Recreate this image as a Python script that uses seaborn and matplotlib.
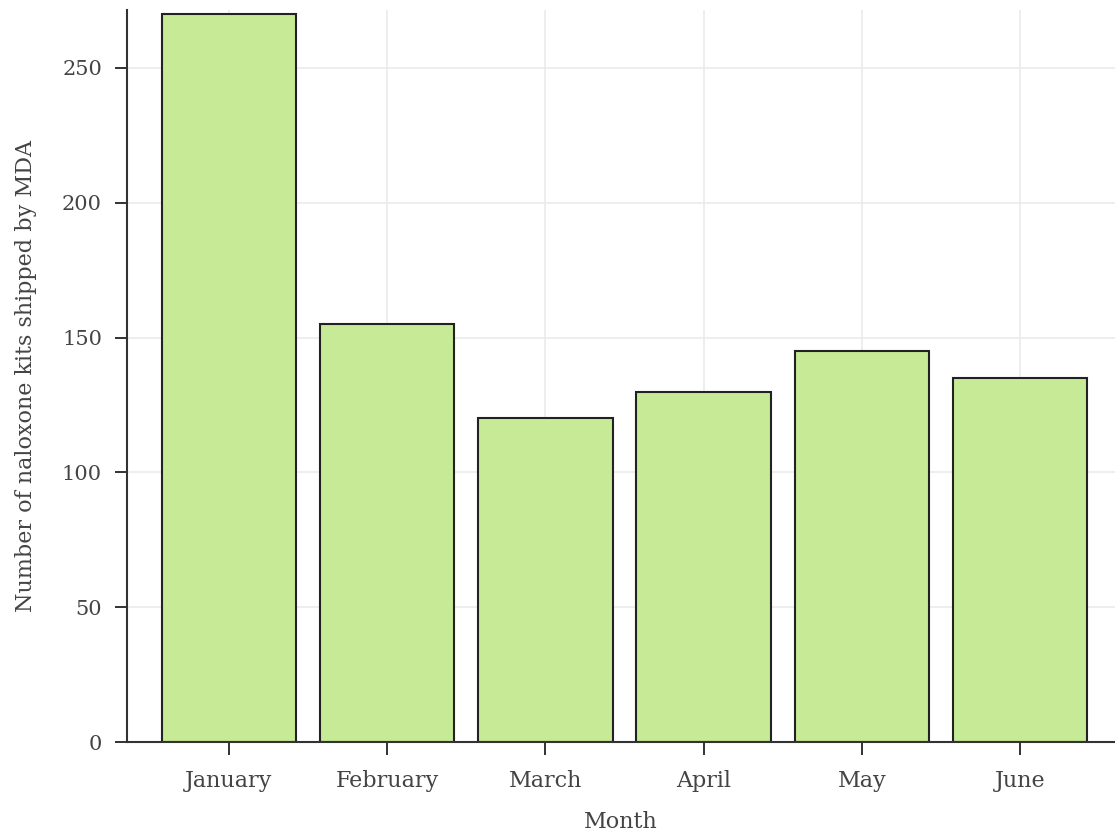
import seaborn as sns
import pandas as pd
import matplotlib as mpl
from matplotlib import pyplot as plt

months = ["January", "February", "March", "April", "May", "June"]
kits = [270, 155, 120, 130, 145, 135]

sns.set_style("white")
plt.rcParams["font.family"] = ["DejaVu Serif"]
plt.rcParams["text.color"] = "#444444"
plt.rcParams["axes.labelcolor"] = "#444444"
plt.rcParams["xtick.color"] = "#222222"
plt.rcParams["ytick.color"] = "#222222"
plt.rcParams["xtick.labelcolor"] = "#444444"
plt.rcParams["ytick.labelcolor"] = "#444444"

df = pd.DataFrame({"Month": months, "kits": kits})

fig = plt.figure(figsize=(11.15, 8.33), dpi=100)
ax = fig.add_axes([0.1139, 0.1092, 0.8861, 0.8788])

sns.barplot(data=df, x="Month", y="kits", color="#c6ea96", width=0.85,
            edgecolor="#222222", linewidth=1.5, saturation=1, ax=ax, zorder=2)

ax.set_xlim(-0.645, 5.6)
ax.set_ylim(0, 271.5)
ax.set_yticks([0, 50, 100, 150, 200, 250])
ax.grid(True, color="#ebebeb", linewidth=1.2, zorder=0)
ax.set_axisbelow(True)

for s in ["top", "right"]:
    ax.spines[s].set_visible(False)
for s in ["left", "bottom"]:
    ax.spines[s].set_color("#333333")
    ax.spines[s].set_linewidth(1.5)

ax.tick_params(axis="both", which="major", length=9, width=1.3,
               direction="out", bottom=True, left=True)
ax.tick_params(axis="x", labelsize=16, pad=11)
ax.tick_params(axis="y", labelsize=15, pad=9)
ax.set_xlabel("Month", fontsize=16, labelpad=14)
ax.set_ylabel("Number of naloxone kits shipped by MDA", fontsize=16, labelpad=18)

fig.savefig("out.png", dpi=100)
